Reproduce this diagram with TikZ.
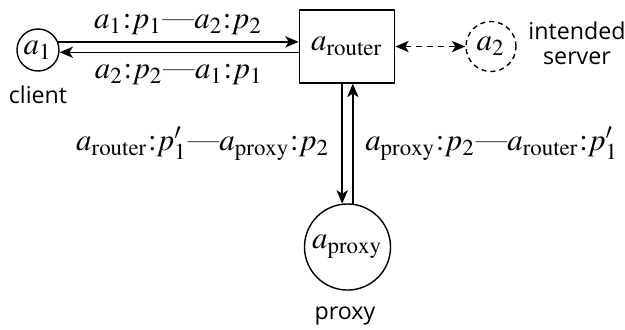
\documentclass[tikz,border=0pt]{standalone}
\usepackage{mathptmx}
\usepackage[no-math]{fontspec}
\newfontfamily\tagfont{Open Sans}
\usetikzlibrary{arrows.meta}

\begin{document}
\begin{tikzpicture}[x=0.01cm, y=-0.01cm, font={\fontsize{8.8}{10}\selectfont},
  tip/.tip={Stealth[length=3.8pt,width=3.2pt,inset=1pt]},
  flow/.style={-tip},
  host/.style={draw, circle, inner sep=0pt},
  tag/.style={font={\tagfont\fontsize{6.6}{7.2}\selectfont}, align=center}]
  \useasboundingbox (0,0) rectangle (625,329);

  % hosts
  \node[host,minimum size=0.42cm] (client) at (38,50) {$a_1$};
  \node[draw,minimum width=0.9cm,minimum height=0.73cm] (router) at (347,46.5) {$a_{\mathrm{router}}$};
  \node[host,dashed,dash pattern=on 0.5mm off 0.4mm,minimum size=0.5cm] (server) at (491,46.5) {$a_2$};
  \node[host,minimum size=0.86cm] (proxy) at (347.5,247) {$a_{\mathrm{proxy}}$};

  \node[tag] (clienttag) at (38,95) {client};
  \node[tag] (servertag) at (577,43) {intended\\server};
  \node[tag] (proxytag) at (345,316) {proxy};

  % client <-> router
  \draw[flow] (client.22) -- node[above=-1.5pt]{$a_1{:}p_1$---$a_2{:}p_2$} (client.22 -| router.west);
  \draw[flow] (router.west |- client.-6) -- node[below]{$a_2{:}p_2$---$a_1{:}p_1$} (client.-6);

  % router <-> intended server
  \draw[tip-tip,dash pattern=on 0.6mm off 0.5mm] (router) -- (server);

  % router <-> proxy
  \draw[flow] (proxy.97 |- router.south) -- node[left]{$a_{\mathrm{router}}{:}p'_1$---$a_{\mathrm{proxy}}{:}p_2$} (proxy.97);
  \draw[flow] (proxy.83) -- node[right]{$a_{\mathrm{proxy}}{:}p_2$---$a_{\mathrm{router}}{:}p'_1$} (proxy.83 |- router.south);
\end{tikzpicture}
\end{document}
